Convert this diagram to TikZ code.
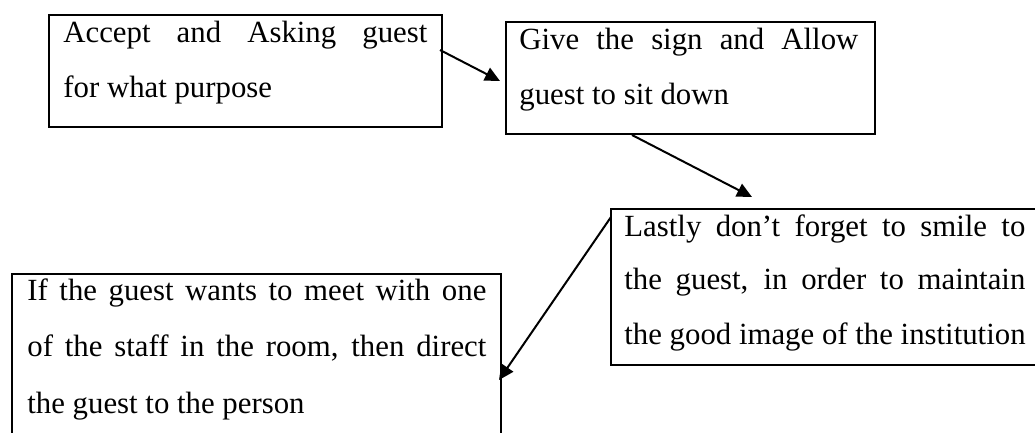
\documentclass[tikz,border=0pt]{standalone}
\usepackage{fontspec}
\setmainfont{Liberation Serif}
\usetikzlibrary{arrows.meta}
\tikzset{
  box/.style={draw, line width=1pt, rectangle, inner sep=0pt, anchor=north west},
  txt/.style={inner sep=0pt, anchor=base west, font=\fontsize{15.4pt}{18pt}\selectfont},
  conn/.style={line width=1pt, -{Triangle[length=7.5pt,width=7pt]}},
}
\begin{document}
\begin{tikzpicture}[x=0.5pt,y=-0.5pt]
\useasboundingbox (0,0) rectangle (1035,433);
\clip (0,0) rectangle (1035,433);
% boxes
\node[box, minimum width=196.5pt, minimum height=56pt] (b1) at (48,14) {};
\node[box, minimum width=184.5pt, minimum height=56pt] (b2) at (505,21) {};
\node[box, minimum width=215pt, minimum height=78pt] (b3) at (610,208) {};
\node[box, minimum width=244.5pt, minimum height=100pt] (b4) at (11,273) {};
% texts
\node[txt] (t1a) at (63,43) {\makebox[182pt][s]{Accept and Asking guest}};
\node[txt] (t1b) at (63,98) {for what purpose};
\node[txt] (t2a) at (519,50) {\makebox[169.5pt][s]{Give the sign and Allow}};
\node[txt] (t2b) at (519,105) {guest to sit down};
\node[txt] (t3a) at (624,236) {\makebox[200.5pt][s]{Lastly don’t forget to smile to}};
\node[txt] (t3b) at (624,290) {\makebox[200.5pt][s]{the guest, in order to maintain}};
\node[txt] (t3c) at (624,344) {the good image of the institution};
\node[txt] (t4a) at (27,300) {\makebox[229.5pt][s]{If the guest wants to meet with one}};
\node[txt] (t4b) at (27,357) {\makebox[229.5pt][s]{of the staff in the room, then direct}};
\node[txt] (t4c) at (27,413) {the guest to the person};
% connectors
\draw[conn] ([shift={(-3,36)}]b1.north east) -- ([shift={(-5,60)}]b2.north west);
\draw[conn] ([shift={(127,0)}]b2.south west) -- ([shift={(142,-11)}]b3.north west);
\draw[conn] ([shift={(1,9)}]b3.north west) -- ([shift={(-3,107)}]b4.north east);
\end{tikzpicture}
\end{document}
